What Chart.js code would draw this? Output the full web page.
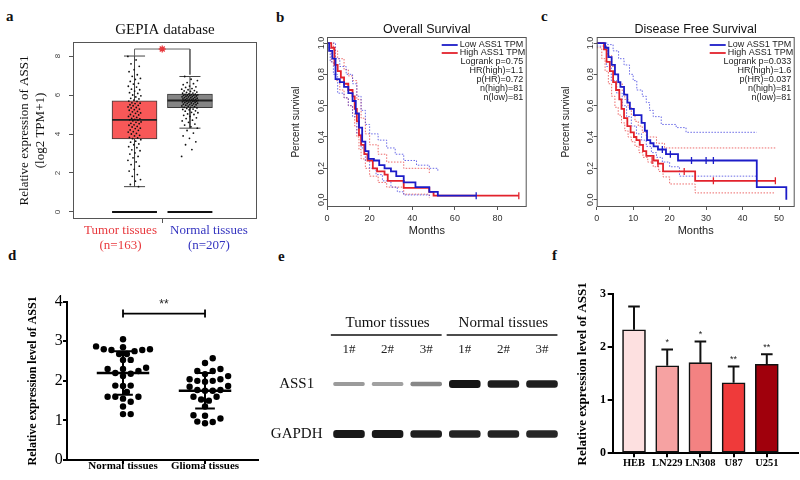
<!DOCTYPE html>
<html>
<head>
<meta charset="utf-8">
<script src="https://cdn.jsdelivr.net/npm/chart.js@4.4.1/dist/chart.umd.min.js"></script>
<style>
  body { margin: 0; background: #fff; width: 800px; height: 480px; position: relative; overflow: hidden; }
  canvas { position: absolute; }
  .tag { position: absolute; font: bold 15px "Liberation Serif", serif; line-height: 15px; color: #111; }
</style>
</head>
<body>
<div class="tag" style="left:6px;top:9px">a</div>
<div class="tag" style="left:276px;top:10px">b</div>
<div class="tag" style="left:541px;top:9px">c</div>
<div class="tag" style="left:8px;top:248px">d</div>
<div class="tag" style="left:278px;top:249px">e</div>
<div class="tag" style="left:552px;top:248px">f</div>

<canvas id="gepia" style="left:0;top:0" width="265" height="255"></canvas>
<canvas id="os" style="left:262px;top:0" width="270" height="250"></canvas>
<canvas id="dfs" style="left:532px;top:0" width="268" height="250"></canvas>
<canvas id="qpcr" style="left:0;top:255px" width="265" height="225"></canvas>
<canvas id="blot" style="left:258px;top:255px" width="305" height="225"></canvas>
<canvas id="cells" style="left:550px;top:255px" width="250" height="225"></canvas>

<script>
const SERIF = '"Liberation Serif", "Times New Roman", serif';
const SANS = '"Liberation Sans", Arial, sans-serif';

// ---- a: GEPIA box plot
const gepiaGroups = ['Tumor tissues', 'Normal tissues'];
const gepiaCounts = [163, 207];
const gepiaWhiskerLow = [1.3, 4.3];
const gepiaQ1 = [3.75, 5.35];
const gepiaMedian = [4.72, 5.72];
const gepiaQ3 = [5.7, 6.05];
const gepiaWhiskerHigh = [8.0, 6.95];
const gepiaTicks = [0, 2, 4, 6, 8];
const tumorExpr = [
  7.98, 7.8, 7.6, 7.47, 7.3, 7.2, 7.04, 6.96, 6.85, 6.8, 6.7, 6.6, 6.56, 6.45, 6.41, 6.3, 6.27, 6.2, 6.12, 6.08, 6.0, 5.96, 5.9, 5.83, 5.8, 5.74,
  5.69, 5.67, 5.6, 5.58, 5.56, 5.5, 5.47, 5.45, 5.39, 5.36, 5.34, 5.28, 5.25, 5.22, 5.16, 5.14, 5.08, 5.06, 5.0, 4.98, 4.92, 4.9, 4.85, 4.8, 4.78, 4.75, 4.73, 4.7,
  4.68, 4.62, 4.6, 4.55, 4.53, 4.47, 4.45, 4.39, 4.36, 4.3, 4.28, 4.21, 4.19, 4.12, 4.1, 4.03, 4.0, 3.93, 3.9, 3.83, 3.8, 3.76,
  3.71, 3.63, 3.58, 3.49, 3.45, 3.35, 3.3, 3.19, 3.14, 3.03, 2.97, 2.85, 2.78, 2.65, 2.57, 2.43, 2.35, 2.19, 2.1, 1.92, 1.83, 1.66, 1.58, 1.41, 1.3
];
const normalExpr = [
  2.85, 3.2, 3.45, 3.6, 3.78, 3.9, 4.05, 4.18,
  4.3, 4.37, 4.46, 4.51, 4.6, 4.67, 4.71, 4.79, 4.83, 4.9, 4.96, 5.0, 5.03, 5.09, 5.11, 5.17, 5.19, 5.24, 5.26, 5.28, 5.31, 5.34,
  5.36, 5.37, 5.4, 5.43, 5.44, 5.47, 5.48, 5.5, 5.51, 5.53, 5.55, 5.57, 5.58, 5.59, 5.61, 5.63, 5.64, 5.65, 5.67, 5.68, 5.69, 5.7, 5.71, 5.71, 5.72,
  5.73, 5.75, 5.76, 5.77, 5.79, 5.8, 5.81, 5.83, 5.84, 5.86, 5.87, 5.88, 5.9, 5.91, 5.93, 5.94, 5.95, 5.97, 5.98, 5.99, 6.0, 6.01, 6.02, 6.03, 6.04,
  6.06, 6.09, 6.1, 6.13, 6.15, 6.19, 6.21, 6.23, 6.27, 6.3, 6.33, 6.39, 6.42, 6.46, 6.53, 6.58, 6.64, 6.74, 6.81, 6.95
];

// ---- b: overall survival (months, survival)
const osLowTime = [0, 1, 2.5, 4, 6, 8, 10, 12, 13.5, 15, 16.5, 18, 19.5, 22, 24.5, 27, 30, 32.5, 36, 41.5, 48, 52, 70];
const osLowSurv = [1, 0.95, 0.9, 0.77, 0.75, 0.72, 0.68, 0.63, 0.55, 0.46, 0.37, 0.31, 0.26, 0.25, 0.22, 0.2, 0.18, 0.15, 0.11, 0.08, 0.05, 0.025, 0.025];
const osHighTime = [0, 2, 3.5, 5, 6.5, 8, 10, 12, 13, 14, 15, 16, 17.5, 19, 21.5, 23.5, 27, 28.5, 36, 48, 50, 90];
const osHighSurv = [1, 0.97, 0.86, 0.82, 0.78, 0.74, 0.7, 0.66, 0.58, 0.5, 0.41, 0.35, 0.29, 0.25, 0.2, 0.18, 0.16, 0.12, 0.075, 0.05, 0.025, 0.025];
const osLowUpTime = [0, 2, 4, 6, 9, 12, 14, 16, 18, 20, 24, 28, 32, 36, 42, 48, 52];
const osLowUpSurv = [1, 1, 0.9, 0.85, 0.8, 0.74, 0.66, 0.57, 0.48, 0.42, 0.38, 0.33, 0.29, 0.25, 0.22, 0.2, 0.18];
const osLowLoTime = [0, 1.5, 3, 5, 8, 10, 12, 14, 16, 18, 20, 23, 26, 30, 33, 36, 48];
const osLowLoSurv = [0.97, 0.88, 0.8, 0.68, 0.65, 0.6, 0.53, 0.42, 0.33, 0.25, 0.2, 0.16, 0.12, 0.08, 0.05, 0.03, 0.02];
const osHighUpTime = [0, 3, 5, 8, 10, 12, 14, 16, 18, 20, 24, 28, 36, 48];
const osHighUpSurv = [1, 0.95, 0.9, 0.83, 0.79, 0.76, 0.64, 0.52, 0.42, 0.35, 0.29, 0.24, 0.2, 0.17];
const osHighLoTime = [0, 2, 4, 6, 8, 10, 12, 13, 14, 15, 16, 18, 20, 24, 28, 36, 48];
const osHighLoSurv = [0.95, 0.88, 0.76, 0.7, 0.65, 0.6, 0.55, 0.47, 0.4, 0.32, 0.26, 0.2, 0.15, 0.11, 0.08, 0.035, 0.01];
const osLowCensorTime = [70];
const osLowCensorSurv = [0.025];
const osHighCensorTime = [90];
const osHighCensorSurv = [0.025];
const osStats = ['Logrank p=0.75', 'HR(high)=1.1', 'p(HR)=0.72', 'n(high)=81', 'n(low)=81'];

// ---- c: disease free survival
const dfsLowTime = [0, 2.3, 3.2, 4.1, 5, 5.9, 6.5, 7.5, 8.4, 9.1, 10.2, 12.3, 13.2, 13.8, 14.7, 15.6, 16.8, 19, 22.3, 43.9, 52];
const dfsLowSurv = [1, 0.97, 0.91, 0.86, 0.8, 0.75, 0.72, 0.67, 0.62, 0.58, 0.54, 0.49, 0.44, 0.38, 0.36, 0.34, 0.32, 0.29, 0.25, 0.08, 0];
const dfsHighTime = [0, 2, 2.7, 3.6, 4.5, 5.3, 6.2, 6.8, 7.5, 8.4, 9.3, 10.2, 10.9, 11.8, 12.7, 13.6, 15.6, 16.8, 18.2, 27, 49];
const dfsHighSurv = [1, 0.96, 0.88, 0.82, 0.75, 0.7, 0.64, 0.58, 0.52, 0.47, 0.43, 0.4, 0.38, 0.35, 0.31, 0.28, 0.25, 0.23, 0.18, 0.12, 0.12];
const dfsLowUpTime = [0, 3, 4.5, 6, 7.5, 9, 10, 11, 12.5, 13.6, 14.5, 15.5, 17.7, 21.8, 24.5, 43.9];
const dfsLowUpSurv = [1, 0.99, 0.95, 0.9, 0.86, 0.8, 0.76, 0.7, 0.66, 0.62, 0.57, 0.53, 0.48, 0.46, 0.43, 0.43];
const dfsLowLoTime = [0, 2.7, 4, 5.5, 7, 8.2, 9.5, 10.9, 12.3, 13.6, 15, 16.4, 18, 20, 22.7, 43.9];
const dfsLowLoSurv = [0.98, 0.85, 0.76, 0.68, 0.6, 0.53, 0.47, 0.42, 0.38, 0.34, 0.3, 0.27, 0.24, 0.21, 0.15, 0.15];
const dfsHighUpTime = [0, 1.8, 3, 4.1, 5, 5.9, 7, 7.7, 8.6, 9.5, 10.5, 11.4, 12.5, 13.6, 16.4, 18.6, 49];
const dfsHighUpSurv = [1, 0.98, 0.92, 0.85, 0.8, 0.74, 0.69, 0.64, 0.59, 0.54, 0.5, 0.47, 0.43, 0.4, 0.36, 0.33, 0.33];
const dfsHighLoTime = [0, 1.4, 2.3, 3.2, 4.1, 5, 5.9, 6.8, 7.7, 8.6, 9.5, 10.5, 11.6, 12.7, 14, 15.5, 17, 18.2, 20, 27, 49];
const dfsHighLoSurv = [0.97, 0.9, 0.82, 0.74, 0.66, 0.59, 0.54, 0.49, 0.44, 0.4, 0.37, 0.34, 0.3, 0.27, 0.24, 0.21, 0.18, 0.145, 0.1, 0.043, 0.043];
const dfsLowCensorTime = [18, 20.2, 26, 30, 32];
const dfsLowCensorSurv = [0.32, 0.29, 0.25, 0.25, 0.25];
const dfsHighCensorTime = [15.2, 16.8, 24, 32, 49];
const dfsHighCensorSurv = [0.25, 0.23, 0.18, 0.12, 0.12];
const dfsStats = ['Logrank p=0.033', 'HR(high)=1.6', 'p(HR)=0.037', 'n(high)=81', 'n(low)=81'];
const survivalLegend = ['Low ASS1 TPM', 'High ASS1 TPM'];

// ---- d: qPCR scatter
const tissueGroups = ['Normal tissues', 'Glioma tissues'];
const normalTissue = [3.05, 2.87, 2.85, 2.8, 2.78, 2.78, 2.75, 2.8, 2.68, 2.68, 2.53, 2.53, 2.33, 2.3, 2.3, 2.25, 2.18, 2.2, 2.12, 1.88, 1.87, 1.88, 1.72, 1.6, 1.6, 1.6, 1.55, 1.47, 1.35, 1.16, 1.16];
const gliomaTissue = [2.57, 2.45, 2.3, 2.25, 2.25, 2.17, 2.12, 2.04, 2.04, 2.0, 2.0, 1.98, 1.87, 1.85, 1.77, 1.77, 1.75, 1.75, 1.6, 1.6, 1.53, 1.5, 1.35, 1.13, 1.12, 1.05, 0.97, 0.96, 0.93];
const tissueMean = [2.2, 1.75];
const tissueSd = [0.55, 0.45];
const tissueTicks = [0, 1, 2, 3, 4];

// ---- e: western blot
const blotLanes = ['1#', '2#', '3#', '1#', '2#', '3#'];
const blotGroups = ['Tumor tissues', 'Normal tissues'];
const blotRows = ['ASS1', 'GAPDH'];
const ass1Signal = [0.3, 0.27, 0.4, 0.97, 0.93, 0.92];
const gapdhSignal = [0.95, 0.95, 0.92, 0.9, 0.9, 0.88];

// ---- f: cell lines
const cellLines = ['HEB', 'LN229', 'LN308', 'U87', 'U251'];
const cellExpr = [2.33, 1.65, 1.71, 1.33, 1.68];
const cellSd = [0.44, 0.31, 0.4, 0.31, 0.19];
const cellSig = ['', '*', '*', '**', '**'];
const cellTicks = [0, 1, 2, 3];

// helpers
const GAP = { x: null, y: null };
const segs = (list) => list.flatMap(s => [...s, GAP]);
const setTicks = (vals) => (scale) => { scale.ticks = vals.map(v => ({ value: v })); };
const fixSize = (w, h) => (scale) => {
  if (w != null) scale.width = w;
  if (h != null) scale.height = h;
};
const jitter = (i, w) => (((i * 0.618034) % 1) - 0.5) * w;
const baseOpts = { responsive: false, animation: false, events: [] };
const noPlugins = { legend: { display: false }, tooltip: { enabled: false } };
const line = (data, color, width, extra) => Object.assign({
  type: 'scatter', showLine: true, data, borderColor: color, borderWidth: width, pointRadius: 0
}, extra || {});

// ================= a
const boxCenters = [1, 2];
const groupColors = ['#e8383d', '#3434c0'];
const bracketTop = Math.max(...gepiaWhiskerHigh) + 0.36;

new Chart(document.getElementById('gepia'), {
  type: 'scatter',
  data: {
    datasets: [
      { data: tumorExpr.map((v, i) => ({ x: boxCenters[0] + jitter(i, 0.24), y: v })), pointRadius: 0.9, pointBackgroundColor: '#111', pointBorderWidth: 0, order: 0 },
      { data: normalExpr.map((v, i) => ({ x: boxCenters[1] + jitter(i, 0.3), y: v })), pointRadius: 0.9, pointBackgroundColor: '#111', pointBorderWidth: 0, order: 0 },
      { data: [{ x: 1.5, y: bracketTop }], pointStyle: 'star', pointRadius: 3.5, pointBorderColor: '#e8383d', pointBorderWidth: 1.3, order: 1 },
      line(segs([[{ x: 1, y: gepiaWhiskerHigh[0] }, { x: 1, y: bracketTop }, { x: 2, y: bracketTop }, { x: 2, y: gepiaWhiskerHigh[1] + 0.1 }]]), '#666', 1, { order: 2 }),
      line(segs(boxCenters.map((c, i) => [{ x: c - 0.405, y: gepiaMedian[i] }, { x: c + 0.405, y: gepiaMedian[i] }])), '#222', 1.8, { order: 2 }),
      line(segs(boxCenters.map(c => [{ x: c - 0.405, y: 0 }, { x: c + 0.405, y: 0 }])), '#111', 2.2, { order: 2 }),
      line(segs(boxCenters.flatMap((c, i) => [
        [{ x: c, y: gepiaQ3[i] }, { x: c, y: gepiaWhiskerHigh[i] }],
        [{ x: c - 0.19, y: gepiaWhiskerHigh[i] }, { x: c + 0.19, y: gepiaWhiskerHigh[i] }],
        [{ x: c, y: gepiaQ1[i] }, { x: c, y: gepiaWhiskerLow[i] }],
        [{ x: c - 0.19, y: gepiaWhiskerLow[i] }, { x: c + 0.19, y: gepiaWhiskerLow[i] }]
      ])), '#444', 1, { order: 3 }),
      {
        type: 'bar', data: boxCenters.map((c, i) => ({ x: c, y: [gepiaQ1[i], gepiaQ3[i]] })),
        backgroundColor: ['#f85858', '#858585'], borderColor: '#3a3a3a', borderWidth: 1,
        borderSkipped: false, barThickness: 45, grouped: false, order: 4
      }
    ]
  },
  options: {
    ...baseOpts,
    layout: { padding: { top: 42, right: 8, left: 0, bottom: 0 } },
    plugins: noPlugins,
    scales: {
      x: {
        type: 'linear', min: -0.11, max: 3.21, offset: false,
        afterBuildTicks: setTicks([1.5]), afterFit: fixSize(null, 36),
        ticks: { display: false },
        grid: { drawOnChartArea: false, offset: false, tickLength: 4, color: '#555' },
        border: { display: false }
      },
      y: {
        min: -0.36, max: 8.72,
        afterBuildTicks: setTicks(gepiaTicks), afterFit: fixSize(73, null),
        ticks: { font: { family: SANS, size: 8 }, color: '#444', minRotation: 90, maxRotation: 90, crossAlign: 'center', padding: 8.8 },
        grid: { drawOnChartArea: false, tickLength: 4, color: '#555' },
        border: { display: false },
        title: { display: true, text: ['Relative expression of ASS1', '(log2 TPM+1)'], font: { family: SERIF, size: 13 }, color: '#111', padding: { top: 17 } }
      }
    }
  },
  plugins: [{
    id: 'gepiaText',
    afterDraw(chart) {
      const { ctx, chartArea: { left, top, right, bottom } } = chart;
      const xs = chart.scales.x;
      ctx.save();
      ctx.strokeStyle = '#555';
      ctx.lineWidth = 1;
      ctx.strokeRect(left + 0.5, top + 0.5, right - left - 1, bottom - top - 1);
      ctx.textAlign = 'center';
      ctx.textBaseline = 'middle';
      ctx.fillStyle = '#111';
      ctx.font = '15px ' + SERIF;
      ctx.fillText('GEPIA database', (left + right) / 2, top - 12);
      ctx.font = '13px ' + SERIF;
      const shift = [-14, 19];
      gepiaGroups.forEach((g, i) => {
        const cx = xs.getPixelForValue(boxCenters[i]) + shift[i];
        ctx.fillStyle = groupColors[i];
        ctx.fillText(g, cx, bottom + 12);
        ctx.fillText('(n=' + gepiaCounts[i] + ')', cx, bottom + 27);
      });
      ctx.restore();
    }
  }]
});

// ================= b, c
const LOW_BLUE = '#1c1cc8';
const HIGH_RED = '#e2222c';

function survivalChart(id, s) {
  const pts = (t, v) => t.map((x, i) => ({ x, y: v[i] }));
  const step = (data, color, width, dash) => ({
    type: 'line', data, borderColor: color, borderWidth: width, borderDash: dash || [],
    stepped: true, pointRadius: 0, fill: false
  });
  const ciBlue = 'rgba(70,70,225,0.8)';
  const ciRed = 'rgba(232,70,70,0.8)';
  return new Chart(document.getElementById(id), {
    type: 'scatter',
    data: {
      datasets: [
        { data: pts(s.lowCensor[0], s.lowCensor[1]), pointStyle: 'line', rotation: 90, pointRadius: 3.5, pointBorderColor: LOW_BLUE, pointBorderWidth: 1.3, order: 0 },
        { data: pts(s.highCensor[0], s.highCensor[1]), pointStyle: 'line', rotation: 90, pointRadius: 3.5, pointBorderColor: HIGH_RED, pointBorderWidth: 1.3, order: 0 },
        Object.assign(step(pts(s.low[0], s.low[1]), LOW_BLUE, 1.8), { order: 1 }),
        Object.assign(step(pts(s.high[0], s.high[1]), HIGH_RED, 1.8), { order: 1 }),
        Object.assign(step(pts(s.lowUp[0], s.lowUp[1]), ciBlue, 1, [1.5, 1.5]), { order: 2 }),
        Object.assign(step(pts(s.lowLo[0], s.lowLo[1]), ciBlue, 1, [1.5, 1.5]), { order: 2 }),
        Object.assign(step(pts(s.highUp[0], s.highUp[1]), ciRed, 1, [1.5, 1.5]), { order: 2 }),
        Object.assign(step(pts(s.highLo[0], s.highLo[1]), ciRed, 1, [1.5, 1.5]), { order: 2 })
      ]
    },
    options: {
      ...baseOpts,
      layout: { padding: { top: 37, right: s.padRight, left: 0, bottom: 0 } },
      plugins: noPlugins,
      scales: {
        x: {
          type: 'linear', min: 0, max: s.xMax,
          afterBuildTicks: setTicks(s.xTicks), afterFit: fixSize(null, 43),
          ticks: { font: { family: SANS, size: 9 }, color: '#333', padding: 3.6, maxRotation: 0 },
          grid: { drawOnChartArea: false, tickLength: 3, color: '#555' },
          border: { display: false },
          title: { display: true, text: 'Months', font: { family: SANS, size: 11 }, color: '#222', padding: { bottom: 12.4 } }
        },
        y: {
          min: -0.047, max: 1.0385,
          afterBuildTicks: setTicks([0, 0.2, 0.4, 0.6, 0.8, 1.0]), afterFit: fixSize(s.axisWidth, null),
          ticks: { font: { family: SANS, size: 9 }, color: '#333', minRotation: 90, maxRotation: 90, crossAlign: 'center', padding: -3.3, callback: v => v.toFixed(1) },
          grid: { drawOnChartArea: false, tickLength: 3, color: '#555' },
          border: { display: false },
          title: { display: true, text: 'Percent survival', font: { family: SANS, size: 10 }, color: '#222', padding: { top: 28 } }
        }
      }
    },
    plugins: [{
      id: 'kmText',
      afterDraw(chart) {
        const { ctx, chartArea: { left, top, right, bottom } } = chart;
        ctx.save();
        ctx.strokeStyle = '#555';
        ctx.lineWidth = 1;
        ctx.strokeRect(left + 0.5, top + 0.5, right - left - 1, bottom - top - 1);
        ctx.fillStyle = '#111';
        ctx.textAlign = 'center';
        ctx.textBaseline = 'middle';
        ctx.font = '12.5px ' + SANS;
        ctx.fillText(s.title, (left + right) / 2, top - 7);
        ctx.font = '9px ' + SANS;
        ctx.textAlign = 'left';
        [LOW_BLUE, HIGH_RED].forEach((c, i) => {
          const y = top + 8 + i * 8;
          ctx.strokeStyle = c;
          ctx.lineWidth = 1.8;
          ctx.beginPath();
          ctx.moveTo(right - 85, y);
          ctx.lineTo(right - 69, y);
          ctx.stroke();
          ctx.fillStyle = '#222';
          ctx.fillText(survivalLegend[i], right - 67, y);
        });
        ctx.textAlign = 'right';
        s.stats.forEach((t, i) => ctx.fillText(t, right - 3.5, top + 25 + i * 9));
        ctx.restore();
      }
    }]
  });
}

survivalChart('os', {
  title: 'Overall Survival', xMax: 93.7, xTicks: [0, 20, 40, 60, 80], padRight: 4, axisWidth: 65, stats: osStats,
  low: [osLowTime, osLowSurv], high: [osHighTime, osHighSurv],
  lowUp: [osLowUpTime, osLowUpSurv], lowLo: [osLowLoTime, osLowLoSurv],
  highUp: [osHighUpTime, osHighUpSurv], highLo: [osHighLoTime, osHighLoSurv],
  lowCensor: [osLowCensorTime, osLowCensorSurv], highCensor: [osHighCensorTime, osHighCensorSurv]
});

survivalChart('dfs', {
  title: 'Disease Free Survival', xMax: 54.3, xTicks: [0, 10, 20, 30, 40, 50], padRight: 4.3, axisWidth: 64.7, stats: dfsStats,
  low: [dfsLowTime, dfsLowSurv], high: [dfsHighTime, dfsHighSurv],
  lowUp: [dfsLowUpTime, dfsLowUpSurv], lowLo: [dfsLowLoTime, dfsLowLoSurv],
  highUp: [dfsHighUpTime, dfsHighUpSurv], highLo: [dfsHighLoTime, dfsHighLoSurv],
  lowCensor: [dfsLowCensorTime, dfsLowCensorSurv], highCensor: [dfsHighCensorTime, dfsHighCensorSurv]
});

// ================= d
// simple beeswarm so the dots don't sit on top of each other
function swarm(values, center) {
  const dotPx = 7, yPx = 39.6, xPx = 82;
  const placed = [];
  const xs = new Array(values.length);
  values.map((v, i) => i).sort((a, b) => values[a] - values[b]).forEach(i => {
    const y = values[i] * yPx;
    for (let k = 0; k < 40; k++) {
      const off = (k % 2 ? 1 : -1) * Math.ceil(k / 2) * dotPx * 0.55;
      if (placed.every(p => Math.hypot(p.x - off, p.y - y) >= dotPx)) {
        placed.push({ x: off, y });
        xs[i] = center + off / xPx;
        break;
      }
    }
  });
  return values.map((v, i) => ({ x: xs[i], y: v }));
}

const tissueCenters = [1, 2];
new Chart(document.getElementById('qpcr'), {
  type: 'scatter',
  data: {
    datasets: [
      { data: swarm(normalTissue, tissueCenters[0]), pointRadius: 3.2, pointBackgroundColor: '#000', pointBorderWidth: 0, order: 1 },
      { data: swarm(gliomaTissue, tissueCenters[1]), pointRadius: 3.2, pointBackgroundColor: '#000', pointBorderWidth: 0, order: 1 },
      line(segs(tissueCenters.map((c, i) => [{ x: c - 0.32, y: tissueMean[i] }, { x: c + 0.32, y: tissueMean[i] }])), '#000', 2.5, { order: 0 }),
      line(segs(tissueCenters.flatMap((c, i) => {
        const lo = tissueMean[i] - tissueSd[i], hi = tissueMean[i] + tissueSd[i];
        return [
          [{ x: c, y: lo }, { x: c, y: hi }],
          [{ x: c - 0.12, y: lo }, { x: c + 0.12, y: lo }],
          [{ x: c - 0.12, y: hi }, { x: c + 0.12, y: hi }]
        ];
      })), '#000', 2, { order: 0 }),
      line(segs([
        [{ x: 1, y: 3.7 }, { x: 2, y: 3.7 }],
        [{ x: 1, y: 3.6 }, { x: 1, y: 3.8 }],
        [{ x: 2, y: 3.6 }, { x: 2, y: 3.8 }]
      ]), '#000', 1.8, { order: 0 })
    ]
  },
  options: {
    ...baseOpts,
    layout: { padding: { top: 46.7, right: 7, left: 0, bottom: 0 } },
    plugins: noPlugins,
    scales: {
      x: {
        type: 'linear', min: 0.317, max: 2.646, offset: false,
        afterBuildTicks: setTicks(tissueCenters), afterFit: fixSize(null, 20),
        ticks: { callback: v => tissueGroups[v - 1], font: { family: SERIF, size: 11, weight: 'bold' }, color: '#000', padding: -4, maxRotation: 0, autoSkip: false },
        grid: { drawOnChartArea: false, tickLength: 4, lineWidth: 2, color: '#000' },
        border: { display: true, color: '#000', width: 2 }
      },
      y: {
        min: 0, max: 4,
        afterBuildTicks: setTicks(tissueTicks), afterFit: fixSize(67, null),
        ticks: { font: { family: SERIF, size: 16 }, color: '#000', padding: 0.3 },
        grid: { drawOnChartArea: false, tickLength: 4, lineWidth: 2, color: '#000' },
        border: { display: true, color: '#000', width: 2 },
        title: { display: true, text: 'Relative expression level of ASS1', font: { family: SERIF, size: 12, weight: 'bold' }, color: '#000', padding: { top: 25.8 } }
      }
    }
  },
  plugins: [{
    id: 'qpcrSig',
    afterDraw(chart) {
      const { ctx, scales: { x, y } } = chart;
      ctx.save();
      ctx.fillStyle = '#222';
      ctx.font = '12px ' + SANS;
      ctx.textAlign = 'center';
      ctx.textBaseline = 'middle';
      ctx.fillText('**', x.getPixelForValue(1.5), y.getPixelForValue(3.7) - 9);
      ctx.restore();
    }
  }]
});

// ================= e
const bandShade = (sig) => {
  const g = Math.round(215 - 200 * sig);
  return `rgb(${g},${g},${g})`;
};
const blotData = [];
[ass1Signal, gapdhSignal].forEach((signal, r) => {
  signal.forEach((sig, i) => {
    const lane = i + 1;
    blotData.push({
      data: blotRows.map((row, k) => (k === r ? [lane - 0.4, lane + 0.4] : null)),
      backgroundColor: bandShade(sig),
      barThickness: 1.5 + 6 * sig,
      borderRadius: 3,
      borderSkipped: false,
      grouped: false
    });
  });
});

new Chart(document.getElementById('blot'), {
  type: 'bar',
  data: { labels: blotRows, datasets: blotData },
  options: {
    ...baseOpts,
    indexAxis: 'y',
    layout: { padding: { top: 84, right: 0, bottom: 21, left: 0 } },
    plugins: noPlugins,
    scales: {
      x: {
        type: 'linear', position: 'top', min: 0.508, max: 6.544,
        afterBuildTicks: setTicks([1, 2, 3, 4, 5, 6]), afterFit: fixSize(null, 20),
        ticks: { callback: v => blotLanes[v - 1], font: { family: SERIF, size: 13 }, color: '#222', padding: 1.2, maxRotation: 0, autoSkip: false },
        grid: { display: false, drawTicks: false },
        border: { display: false }
      },
      y: {
        type: 'category', afterFit: fixSize(72, null),
        ticks: { font: { family: SERIF, size: 15 }, color: '#111', crossAlign: 'center', padding: 7.5 },
        grid: { display: false, drawTicks: false },
        border: { display: false }
      }
    }
  },
  plugins: [{
    id: 'blotLook',
    beforeDatasetsDraw(chart) {
      chart.ctx.save();
      chart.ctx.filter = 'blur(0.7px)';
    },
    afterDatasetsDraw(chart) {
      chart.ctx.restore();
    },
    afterDraw(chart) {
      const { ctx, chartArea: { top }, scales: { x } } = chart;
      ctx.save();
      ctx.fillStyle = '#111';
      ctx.strokeStyle = '#111';
      ctx.lineWidth = 1.3;
      ctx.font = '15px ' + SERIF;
      ctx.textAlign = 'center';
      ctx.textBaseline = 'middle';
      blotGroups.forEach((g, gi) => {
        const first = gi * 3 + 1, last = gi * 3 + 3;
        ctx.fillText(g, x.getPixelForValue((first + last) / 2), top - 36);
        ctx.beginPath();
        ctx.moveTo(x.getPixelForValue(first - 0.47), top - 24);
        ctx.lineTo(x.getPixelForValue(last + 0.4), top - 24);
        ctx.stroke();
      });
      ctx.restore();
    }
  }]
});

// ================= f
const cellColors = ['#fde0e0', '#f6a2a2', '#f38282', '#ef3a3a', '#a0000c'];
const cellX = cellLines.map((c, i) => i + 1);
new Chart(document.getElementById('cells'), {
  type: 'scatter',
  data: {
    datasets: [
      line(segs(cellX.flatMap((x, i) => {
        const top = cellExpr[i] + cellSd[i];
        return [[{ x, y: cellExpr[i] }, { x, y: top }], [{ x: x - 0.175, y: top }, { x: x + 0.175, y: top }]];
      })), '#111', 2, { order: 1 }),
      {
        type: 'bar', data: cellX.map((x, i) => ({ x, y: cellExpr[i] })),
        backgroundColor: cellColors, borderColor: '#111', borderWidth: 1.6,
        borderSkipped: false, barThickness: 23, grouped: false, order: 0
      }
    ]
  },
  options: {
    ...baseOpts,
    layout: { padding: { top: 39.3, right: 2, left: 0, bottom: 0 } },
    plugins: noPlugins,
    scales: {
      x: {
        type: 'linear', min: 0.358, max: 5.94, offset: false,
        afterBuildTicks: setTicks(cellX), afterFit: fixSize(null, 26.7),
        ticks: { callback: v => cellLines[v - 1], font: { family: SERIF, size: 10.5, weight: 'bold' }, color: '#000', padding: 0, maxRotation: 0, autoSkip: false },
        grid: { drawOnChartArea: false, offset: false, tickLength: 4, lineWidth: 2, color: '#000' },
        border: { display: true, color: '#000', width: 2 }
      },
      y: {
        min: 0, max: 3,
        afterBuildTicks: setTicks(cellTicks), afterFit: fixSize(62.7, null),
        ticks: { font: { family: SERIF, size: 12, weight: 'bold' }, color: '#000', padding: 1.7 },
        grid: { drawOnChartArea: false, tickLength: 5, lineWidth: 2, color: '#000' },
        border: { display: true, color: '#000', width: 2 },
        title: { display: true, text: 'Relative expression level of ASS1', font: { family: SERIF, size: 13, weight: 'bold' }, color: '#000', padding: { top: 25.2 } }
      }
    }
  },
  plugins: [{
    id: 'cellSig',
    afterDraw(chart) {
      const { ctx, scales: { x, y } } = chart;
      ctx.save();
      ctx.fillStyle = '#222';
      ctx.font = '9px ' + SANS;
      ctx.textAlign = 'center';
      ctx.textBaseline = 'middle';
      cellSig.forEach((s, i) => {
        if (s) ctx.fillText(s, x.getPixelForValue(cellX[i]), y.getPixelForValue(cellExpr[i] + cellSd[i]) - 7);
      });
      ctx.restore();
    }
  }]
});
</script>
</body>
</html>
